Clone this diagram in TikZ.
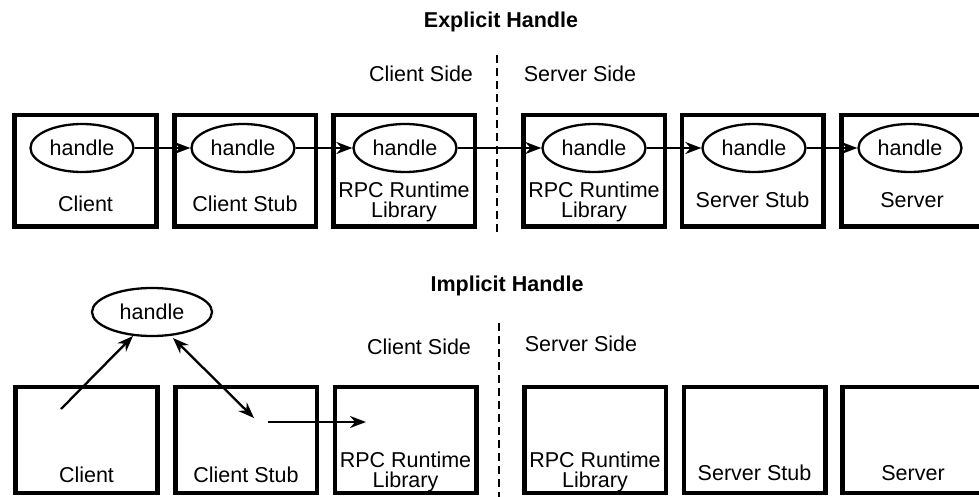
\documentclass[tikz,border=0pt]{standalone}
\usepackage{fontspec}
\setmainfont{Liberation Sans}
\usetikzlibrary{arrows.meta,shapes.geometric}
\begin{document}
\begin{tikzpicture}[x=1bp,y=-1bp,
  every node/.style={font=\fontsize{21.5bp}{20bp}\selectfont, inner sep=0pt},
  box/.style={draw, line width=4.5bp, rectangle, minimum width=141.5bp},
  topbox/.style={box, minimum height=111.5bp},
  botbox/.style={box, minimum height=105.5bp},
  hnd/.style={draw, line width=2.3bp, ellipse, minimum width=103bp, minimum height=48bp},
  lbl/.style={anchor=base, align=center},
  ttl/.style={anchor=base, font=\fontsize{21.5bp}{20bp}\selectfont\bfseries},
  conn/.style={line width=2.3bp, -{Stealth[length=16bp,width=12bp]}},
  dconn/.style={line width=2.3bp, {Stealth[length=16bp,width=12bp]}-{Stealth[length=16bp,width=12bp]}},
  divider/.style={line width=2.3bp, dash pattern=on 8bp off 5bp}
]
\useasboundingbox (0,0) rectangle (979,497);
\clip (0,0) rectangle (979,497);

% ---------- Explicit Handle ----------
\node[ttl] (t1) at (501,28) {Explicit Handle};
\node[lbl] (cs1) at (421,82) {Client Side};
\node[lbl] (ss1) at (580,82) {Server Side};
\coordinate (d1a) at (497,55);
\coordinate (d1b) at (497,232);
\draw[divider] (d1a) -- (d1b);

\node[topbox] (b1) at (85.5,171) {};
\node[topbox] (b2) at (245,171) {};
\node[topbox] (b3) at (404,171) {};
\node[topbox] (b4) at (594,171) {};
\node[topbox] (b5) at (752.5,171) {};
\node[topbox] (b6) at (912,171) {};

\node[hnd] (e1) at (82,148) {handle};
\node[hnd] (e2) at (243,148) {handle};
\node[hnd] (e3) at (405,148) {handle};
\node[hnd] (e4) at (594,148) {handle};
\node[hnd] (e5) at (754,148) {handle};
\node[hnd] (e6) at (910,148) {handle};

\node[lbl] (l1) at (85.5,212) {Client};
\node[lbl] (l2) at (245,212) {Client Stub};
\node[lbl] (l3) at (404,218) {RPC Runtime\\Library};
\node[lbl] (l4) at (594,218) {RPC Runtime\\Library};
\node[lbl] (l5) at (752.5,208) {Server Stub};
\node[lbl] (l6) at (912,208) {Server};

\draw[conn] (e1) -- (e2);
\draw[conn] (e2) -- (e3);
\draw[conn] (e3) -- (e4);
\draw[conn] (e4) -- (e5);
\draw[conn] (e5) -- (e6);

% ---------- Implicit Handle ----------
\node[ttl] (t2) at (507,292) {Implicit Handle};
\node[lbl] (cs2) at (419,355) {Client Side};
\node[lbl] (ss2) at (581,352) {Server Side};
\coordinate (d2a) at (499,323);
\coordinate (d2b) at (499,499);
\draw[divider] (d2a) -- (d2b);

\node[botbox] (c1) at (86.5,440) {};
\node[botbox] (c2) at (246,440) {};
\node[botbox] (c3) at (405.5,440) {};
\node[botbox] (c4) at (595,440) {};
\node[botbox] (c5) at (754.5,440) {};
\node[botbox] (c6) at (913,440) {};

\node[lbl] (m1) at (86.5,482) {Client};
\node[lbl] (m2) at (246,482) {Client Stub};
\node[lbl] (m3) at (405.5,487) {RPC Runtime\\Library};
\node[lbl] (m4) at (595,487) {RPC Runtime\\Library};
\node[lbl] (m5) at (754.5,480) {Server Stub};
\node[lbl] (m6) at (913,480) {Server};

\node[hnd, minimum width=120bp] (hb) at (152,312) {handle};

\coordinate (p1) at (61,409);
\coordinate (p2) at (133,336);
\coordinate (q1) at (173,338);
\coordinate (q2) at (254,418);
\coordinate (r1) at (268,422);
\coordinate (r2) at (366,422);
\draw[conn] (p1) -- (p2);
\draw[dconn] (q1) -- (q2);
\draw[conn] (r1) -- (r2);
\end{tikzpicture}
\end{document}
